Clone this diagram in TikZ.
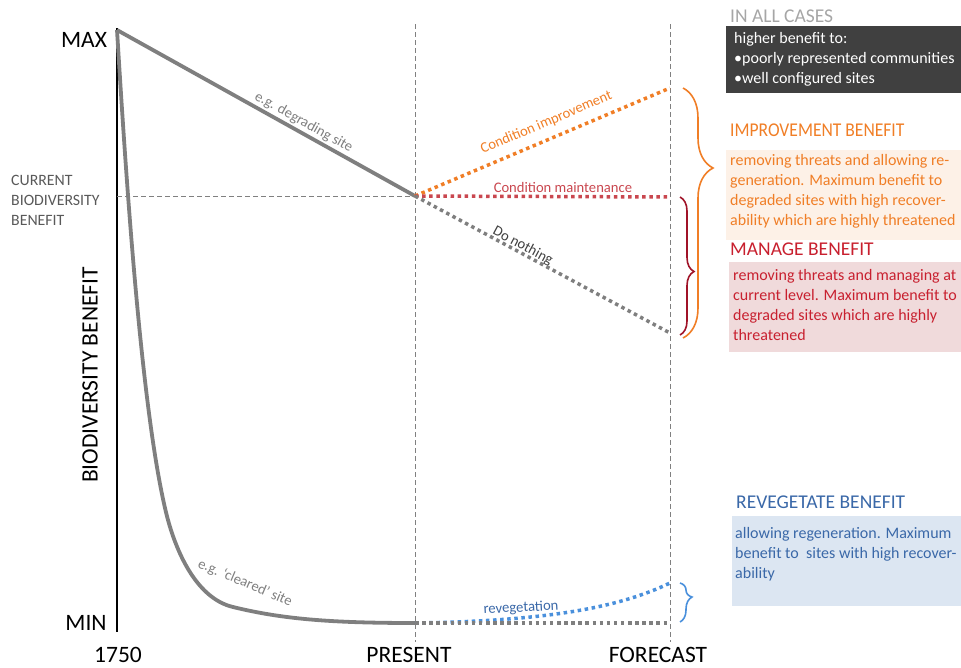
\documentclass[tikz,border=0pt]{standalone}
\usepackage{fontspec}
\setmainfont{Carlito}
\usepackage{xcolor}
\usepackage{tikz}
\usetikzlibrary{decorations.pathreplacing}

\definecolor{lgray}{HTML}{7F7F7F}
\definecolor{dgray}{HTML}{404040}
\definecolor{txtgray}{HTML}{595959}
\definecolor{headgray}{HTML}{A6A6A6}
\definecolor{impcol}{HTML}{F07E26}
\definecolor{impfill}{HTML}{FDF1E7}
\definecolor{mancol}{HTML}{C8202F}
\definecolor{mandot}{HTML}{C9474F}
\definecolor{manfill}{HTML}{F0DADB}
\definecolor{bracered}{HTML}{A01328}
\definecolor{revcol}{HTML}{3A68A8}
\definecolor{revline}{HTML}{4A90DC}
\definecolor{revfill}{HTML}{DCE6F2}

\begin{document}
\begin{tikzpicture}[x=1pt,y=-1pt,
  trend/.style={draw=lgray,line width=3.8pt},
  scen/.style={line width=3.5pt,dash pattern=on 3.5pt off 3.6pt},
  guide/.style={draw=gray,line width=0.9pt,dash pattern=on 5pt off 3pt},
  axislab/.style={font=\fontsize{23.5}{26}\selectfont},
  linelab/.style={font=\fontsize{14.6}{16}\selectfont},
  head/.style={anchor=west,inner sep=0pt,font=\fontsize{19.5}{22}\selectfont},
  panel/.style={anchor=north west,minimum width=235pt,minimum height=90pt,inner sep=0pt},
  paneltext/.style={anchor=north west,align=left,inner sep=0pt,font=\fontsize{16}{20}\selectfont},
  bracket/.style={decorate,line width=1.6pt}]
\useasboundingbox (0,0) rectangle (961,667);

\coordinate (ytop) at (117,28);
\coordinate (ybot) at (117,632);
\coordinate (max) at (117,30);
\coordinate (now) at (415,196);
\coordinate (low) at (415,623);
\coordinate (fimp) at (670,88);
\coordinate (fman) at (670,197);
\coordinate (fnot) at (670,333);
\coordinate (frev) at (670,583);
\coordinate (flow) at (670,623);

% axis and time guides
\draw[line width=1.2pt] (ytop) -- (ybot);
\draw[guide] (415,24) -- (415,642);
\draw[guide] (670,24) -- (670,642);
\draw[guide] (117,196) -- (now);

\node[axislab] (maxlab) at (84,40) {MAX};
\node[axislab] (minlab) at (86,623) {MIN};
\node[axislab] (t0) at (118,655) {1750};
\node[axislab] (t1) at (409,655) {PRESENT};
\node[axislab] (t2) at (658,655) {FORECAST};
\node[axislab,rotate=90] (ylab) at (90,375) {BIODIVERSITY BENEFIT};
\node[anchor=west,align=left,text=txtgray,inner sep=0pt,font=\fontsize{15.8}{20}\selectfont] (curlab) at (11,200) {CURRENT\\BIODIVERSITY\\BENEFIT};

% past
\draw[trend] (max) -- node[pos=0.61,sloped,above=-1.5pt,text=lgray,linelab] (deglab) {e.g. degrading site} (now);
\draw[trend] (max) .. controls (125,160) and (140,400) .. (165,508)
  .. controls (174,548) and (195,598) .. (233,607)
  .. controls (282,619) and (330,623) .. (low);
\node[linelab,text=lgray,rotate=-23] (clrlab) at (245,583) {e.g. ‘cleared’ site};

% forecast
\draw[scen,impcol] (now) -- node[pos=0.54,sloped,above=5pt,linelab] (implab) {Condition improvement} (fimp);
\draw[scen,mandot] (now) -- node[pos=0.58,above=-1.5pt,linelab] (manlab) {Condition maintenance} (fman);
\draw[scen,lgray] (now) -- node[pos=0.41,sloped,above=-4.5pt,text=dgray,linelab] (notlab) {Do nothing} (fnot);
\draw[scen,revline] (low) .. controls (550,621) and (620,607) .. (frev);
\node[linelab,text=revcol,rotate=3] (revlab) at (521,608) {revegetation};
\draw[scen,lgray] (low) -- (flow);

\draw[bracket,impcol,decoration={brace,amplitude=30pt,aspect=0.32}] (683,88) -- (683,338);
\draw[bracket,bracered,decoration={brace,amplitude=14pt,aspect=0.54}] (680,197) -- (680,335);
\draw[bracket,revline,decoration={brace,amplitude=12pt,aspect=0.36}] (680,583) -- (680,622);

% benefit panels
\node[head,text=headgray] (allhead) at (730,16) {IN ALL CASES};
\node[panel,fill=dgray,minimum height=67pt] (allbox) at (726,26) {};
\node[paneltext,text=white] (alltext) at ([shift={(8,6)}]allbox.north west) {higher benefit to:\\•poorly represented communities\\•well configured sites};

\node[head,text=impcol] (imphead) at (730,130) {\scalebox{0.9}[1]{IMPROVEMENT BENEFIT}};
\node[panel,fill=impfill] (impbox) at (726,150) {};
\node[paneltext,text=impcol] (imptext) at ([shift={(4,4)}]impbox.north west) {removing threats and allowing re-\\generation. Maximum benefit to\\degraded sites with high recover-\\ability which are highly threatened};

\node[head,text=mancol] (manhead) at (730,249) {MANAGE BENEFIT};
\node[panel,fill=manfill,minimum width=232pt] (manbox) at (729,262) {};
\node[paneltext,text=mancol] (mantext) at ([shift={(4,7)}]manbox.north west) {removing threats and managing at\\current level. Maximum benefit to\\degraded sites which are highly\\threatened};

\node[head,text=revcol] (revhead) at (736,502) {REVEGETATE BENEFIT};
\node[panel,fill=revfill,minimum width=229pt] (revbox) at (732,516) {};
\node[paneltext,text=revcol] (revtext) at ([shift={(3,11.5)}]revbox.north west) {allowing regeneration. Maximum\\benefit to\ \ sites with high recover-\\ability};
\end{tikzpicture}
\end{document}
